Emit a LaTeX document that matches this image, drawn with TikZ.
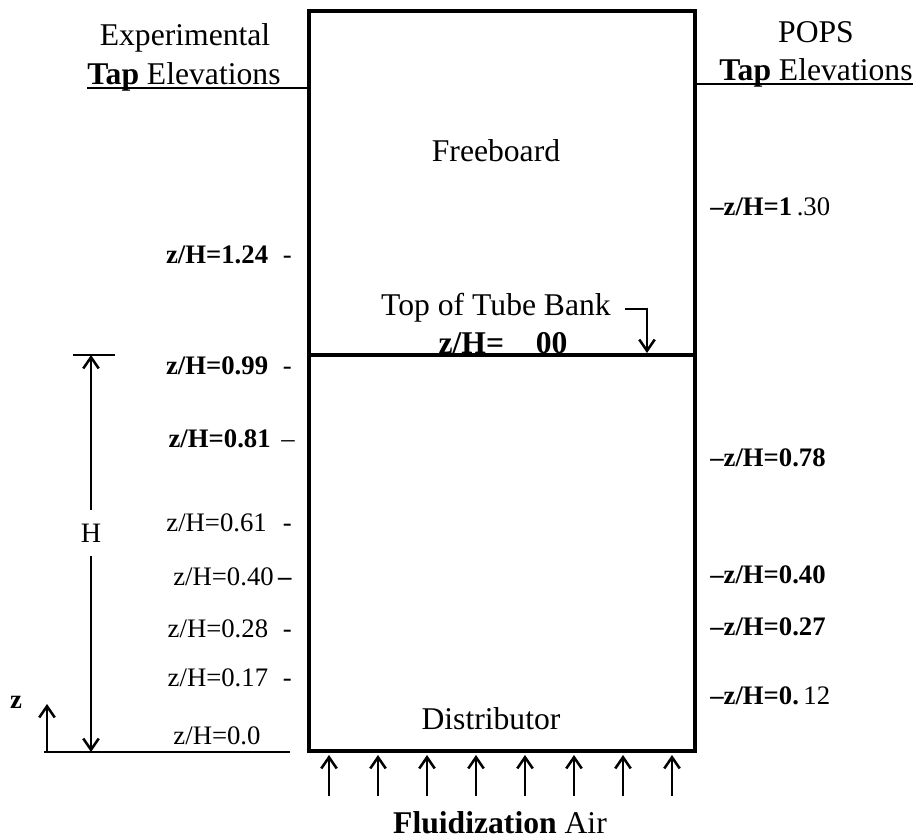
\documentclass[tikz,border=0pt]{standalone}
\usepackage{fontspec}
\setmainfont{Liberation Serif}
\usetikzlibrary{arrows.meta}

\tikzset{
  heading/.style={font=\fontsize{22.5}{26}\selectfont, inner sep=0pt},
  taplabel/.style={font=\fontsize{19}{22}\selectfont, inner sep=0pt},
  wall/.style={line width=3pt},
  rule/.style={line width=1.5pt},
  airarrow/.style={->, line width=1.8pt},
}

\begin{document}
\begin{tikzpicture}[x=0.025cm, y=-0.025cm, >={Straight Barb[length=8pt,width=11pt]}]
    \useasboundingbox (0,0) rectangle (913,839);
    % bed column
    \coordinate (tl) at (309,11);
    \coordinate (tr) at (695,11);
    \coordinate (bl) at (309,751);
    \coordinate (br) at (695,751);
    \coordinate (dl) at (309,355);
    \coordinate (dr) at (695,355);
    \draw[wall] (bl) -- (tl) -- (tr) -- (br) -- cycle;

    % column headings
    \node[heading, anchor=base] (exphead) at (185,46) {Experimental};
    \node[heading, anchor=base] (exptap) at (184,85) {\textbf{Tap} Elevations};
    \node[heading, anchor=base] (popshead) at (816,43) {POPS};
    \node[heading, anchor=base] (popstap) at (816,81) {\textbf{Tap} Elevations};
    \coordinate (expline) at (87,88);
    \coordinate (popsline) at (913,84);
    \draw[rule] (expline) -- (expline -| tl);
    \draw[rule] (popsline -| tr) -- (popsline);

    \node[heading, anchor=base] (freeboard) at (496,162) {Freeboard};
    \node[heading, anchor=base] (tbank) at (496,316) {Top of Tube Bank};
    \node[heading, anchor=base] (tbankz) at (503,354) {\textbf{z/H=\hspace{1em}00}};
    \node[heading, anchor=base] (distributor) at (491,729) {Distributor};
    \node[heading, anchor=base] (air) at (500,833) {\textbf{Fluidization} Air};

    % top of tube bank
    \draw[wall] (dl) -- (dr);
    \coordinate (bankturn) at (625,309);
    \coordinate (bankhit) at (647,353);
    \draw[airarrow] (bankturn) -| (bankhit);

    % experimental taps
    \node[taplabel, anchor=base east] (e124) at (292,264) {\textbf{z/H=1.24}\hspace{0.55em}-};
    \node[taplabel, anchor=base east] (e099) at (292,374) {\textbf{z/H=0.99}\hspace{0.55em}-};
    \node[taplabel, anchor=base east] (e081) at (295,447) {\textbf{z/H=0.81}\hspace{0.4em}--};
    \node[taplabel, anchor=base east] (e061) at (292,531) {z/H=0.61\hspace{0.6em}-};
    \node[taplabel, anchor=base east] (e040) at (292,585) {z/H=0.40\,\textbf{--}};
    \node[taplabel, anchor=base east] (e028) at (292,637) {z/H=0.28\hspace{0.55em}-};
    \node[taplabel, anchor=base east] (e017) at (292,686) {z/H=0.17\hspace{0.55em}-};
    \node[taplabel, anchor=base] (e000) at (217,744) {z/H=0.0};

    % POPS taps
    \node[taplabel, anchor=base west] (p130) at (710,216) {\textbf{--z/H=1}\,.30};
    \node[taplabel, anchor=base west] (p078) at (710,466) {\textbf{--z/H=0.78}};
    \node[taplabel, anchor=base west] (p040) at (710,583) {\textbf{--z/H=0.40}};
    \node[taplabel, anchor=base west] (p027) at (710,635) {\textbf{--z/H=0.27}};
    \node[taplabel, anchor=base west] (p012) at (710,704) {\textbf{--z/H=0.}\,12};

    % bed height H and z axis
    \coordinate (ground) at (44,752);
    \coordinate (groundend) at (290,752);
    \draw[rule] (ground) -- (groundend);
    \coordinate (htickl) at (73,355);
    \coordinate (htickr) at (115,355);
    \draw[rule] (htickl) -- (htickr);
    \node[taplabel, font=\fontsize{20}{22}\selectfont, minimum height=1.15cm] (hlab) at (91,533) {H};
    \draw[airarrow] (hlab) -- (hlab |- htickl);
    \draw[airarrow] (hlab) -- (hlab |- ground);
    \node[taplabel, anchor=base] (zlab) at (16,708) {\textbf{z}};
    \coordinate (zfoot) at (47,752);
    \coordinate (ztip) at (47,704);
    \draw[airarrow] (zfoot) -- (ztip);

    % fluidization air
    \foreach \i in {0,...,7}
        \draw[airarrow] (329+49*\i,796) -- (329+49*\i,755);
\end{tikzpicture}
\end{document}
